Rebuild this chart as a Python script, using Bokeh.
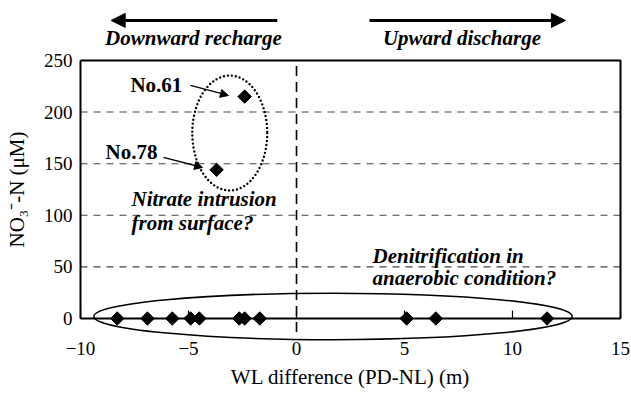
import numpy as np
from bokeh.plotting import figure
from bokeh.models import (Range1d, FixedTicker, Arrow, NormalHead)
from bokeh.core.properties import value
from bokeh.embed import file_html
from bokeh.resources import INLINE

# ---- data ----
wl_low = [-8.3, -6.9, -5.75, -4.9, -4.5, -2.65, -2.4, -1.7, 5.1, 6.45, 11.6]
no3_low = [0, 0, 0, 0, 0, 0, 0, 0, 0, 0, 0]
wl_high = [-2.4, -3.7]
no3_high = [215, 144]
high_names = ["No.61", "No.78"]
x_ticks = [-10, -5, 0, 5, 10, 15]
y_ticks = [0, 50, 100, 150, 200, 250]
x_label = "WL difference (PD-NL) (m)"
y_label = "NO\u2083\u207B-N (\u03bcM)"

SERIF = value("Liberation Serif")

x0, x1 = x_ticks[0], x_ticks[-1]
y0, y1 = y_ticks[0], y_ticks[-1]
grid_y = y_ticks[1:-1]

p = figure(width=631, height=392, output_backend="svg", toolbar_location=None,
           x_range=Range1d(-13.704, 15.509), y_range=Range1d(-71.7, 308.1),
           min_border_left=0, min_border_right=0, min_border_top=0, min_border_bottom=0)
p.outline_line_color = None
p.background_fill_color = "white"
p.border_fill_color = "white"
p.xgrid.visible = False
p.ygrid.visible = False

# axes
xa = p.xaxis[0]
xa.ticker = FixedTicker(ticks=x_ticks)
xa.fixed_location = y0
xa.bounds = (x0, x1)
xa.major_label_overrides = {-10: "\u221210", -5: "\u22125"}
xa.axis_label = x_label
xa.major_tick_in = 8
xa.major_tick_out = 0
xa.minor_tick_line_color = None
xa.major_label_standoff = 24
xa.axis_label_standoff = 6
xa.axis_line_width = 2
xa.major_tick_line_width = 1.2

ya = p.yaxis[0]
ya.ticker = FixedTicker(ticks=y_ticks)
ya.fixed_location = x0
ya.bounds = (y0, y1)
ya.axis_label = y_label
ya.major_tick_in = 0
ya.major_tick_out = 0
ya.minor_tick_line_color = None
ya.major_label_standoff = 8
ya.axis_label_standoff = 12
ya.axis_line_width = 2

for ax in (xa, ya):
    ax.major_label_text_font = "Liberation Serif"
    ax.major_label_text_font_size = "19px"
    ax.major_label_text_color = "black"
    ax.axis_label_text_font = "Liberation Serif"
    ax.axis_label_text_font_size = "21px"
    ax.axis_label_text_font_style = "normal"
    ax.axis_label_text_color = "black"
    ax.axis_line_color = "black"
    ax.major_tick_line_color = "black"

# dashed horizontal grid lines inside the box
p.segment(x0=[x0] * len(grid_y), y0=grid_y, x1=[x1] * len(grid_y), y1=grid_y,
          line_color="#444444", line_width=1.1, line_dash="7 6")

# top and right borders of the box
p.line([x0, x1, x1], [y1, y1, y0], line_color="black", line_width=2)

# vertical dashed line at zero
p.line([0, 0], [-13, y1], line_color="black", line_width=1.6, line_dash="10 6")

# ellipses
p.ellipse(x=[1.69], y=[2], width=[22.14], height=[45], fill_color=None,
          line_color="black", line_width=1.5)
p.ellipse(x=[-3.09], y=[179.7], width=[3.47], height=[111.4], fill_color=None,
          line_color="black", line_width=2.4, line_dash="0 4", line_cap="round")

# points
p.scatter(wl_low, no3_low, marker="square", angle=np.pi / 4, size=9.5,
          fill_color="black", line_color="black")
p.scatter(wl_high, no3_high, marker="square", angle=np.pi / 4, size=9.5,
          fill_color="black", line_color="black")

# labels for high points
p.text(x=[-7.69, -8.84], y=[225.8, 160.9], text=high_names, text_font=SERIF,
       text_font_style="bold", text_font_size="21px", text_baseline="middle",
       text_align="left", text_color="black")
p.add_layout(Arrow(end=NormalHead(size=8, fill_color="black", line_color="black"),
                   x_start=-4.91, y_start=225.8, x_end=-3.15, y_end=216.1,
                   line_width=1.3, line_color="black"))
p.add_layout(Arrow(end=NormalHead(size=8, fill_color="black", line_color="black"),
                   x_start=-6.16, y_start=156, x_end=-4.35, y_end=146.3,
                   line_width=1.3, line_color="black"))

# annotation texts
p.text(x=[-7.64, -7.64, 3.52, 3.52], y=[115.3, 93, 61, 38.8],
       text=["Nitrate intrusion", "from surface?", "Denitrification in", "anaerobic condition?"],
       text_font=SERIF, text_font_style="bold italic", text_font_size="21px",
       text_baseline="middle", text_align="left", text_color="black")

# top arrows
p.add_layout(Arrow(end=NormalHead(size=14, fill_color="black", line_color="black"),
                   x_start=-0.89, y_start=288.8, x_end=-8.58, y_end=288.8,
                   line_width=3, line_color="black"))
p.add_layout(Arrow(end=NormalHead(size=14, fill_color="black", line_color="black"),
                   x_start=3.38, y_start=288.8, x_end=12.45, y_end=288.8,
                   line_width=3, line_color="black"))
p.text(x=[-4.77, 7.66], y=[271.3, 271.3], text=["Downward recharge", "Upward discharge"],
       text_font=SERIF, text_font_style="bold italic", text_font_size="21px",
       text_baseline="middle", text_align="center", text_color="black")

open("out.html", "w").write(file_html(p, INLINE))
